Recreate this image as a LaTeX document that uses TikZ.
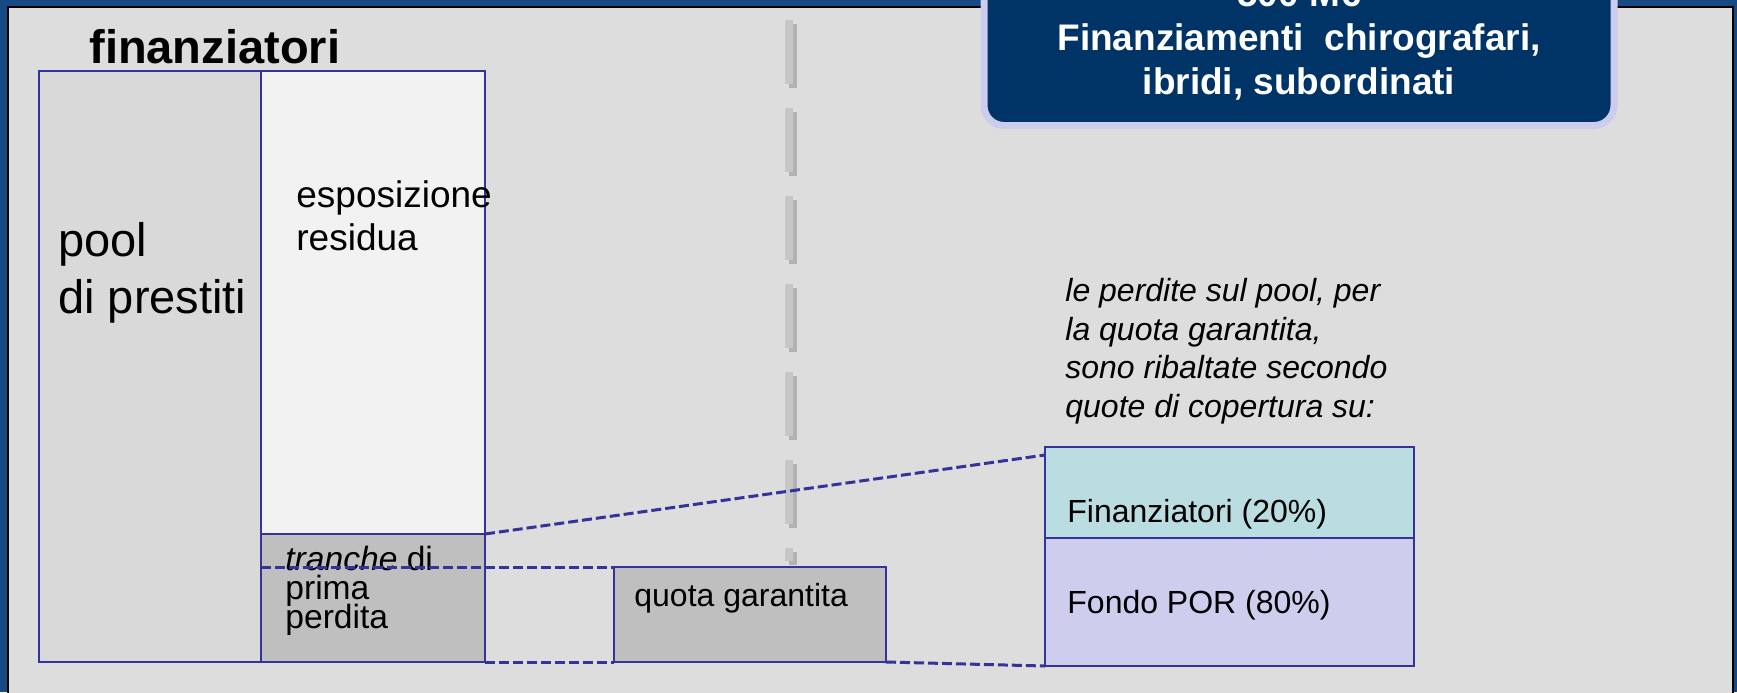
\documentclass[tikz,border=0pt]{standalone}
\usepackage{fontspec}
\setmainfont{Liberation Sans}
\usetikzlibrary{positioning}
\definecolor{bgblue}{HTML}{174A84}
\definecolor{panelgray}{HTML}{DDDDDD}
\definecolor{poolgray}{HTML}{D9D9D9}
\definecolor{expowhite}{HTML}{F2F2F2}
\definecolor{lossgray}{HTML}{BFBFBF}
\definecolor{edgeblue}{HTML}{333399}
\definecolor{finteal}{HTML}{B9DDE0}
\definecolor{porlilac}{HTML}{CDCDED}
\definecolor{titlenavy}{HTML}{003366}
\definecolor{titlerim}{HTML}{CCCCEE}
\definecolor{splitgray}{HTML}{C6C6C6}
\definecolor{splitshade}{HTML}{A8A8A8}
\newcommand{\tightlines}{\lineskiplimit=-30pt\relax}
\tikzstyle{tranche box}=[rectangle, draw=edgeblue, line width=1.2pt,
inner sep=0pt, outer sep=0pt, anchor=north west]
\tikzstyle{plain label}=[inner sep=0pt, anchor=base west, align=left]
\tikzstyle{cut line}=[draw=edgeblue, line width=1.5pt, dash pattern=on 5pt off 2pt]
\tikzstyle{split line}=[line width=4pt, dash pattern=on 32pt off 12pt]

\begin{document}
\begin{tikzpicture}[x=0.5pt, y=-0.5pt]
			\useasboundingbox (0,0) rectangle (1737,692);
			\fill[bgblue] (0,0) rectangle (1737,692);
			\draw[fill=panelgray, draw=black, line width=1pt] (8,7) rectangle (1733,710);

			\draw[split line, splitshade, opacity=0.8] (793,24) -- (793,565);
			\draw[split line, splitgray] (789,20) -- (789,561);

			\node[tranche box, fill=poolgray, minimum width=111pt, minimum height=295.5pt] (pool) at (39,71) {};
			\node[tranche box, fill=expowhite, minimum width=112pt, minimum height=231.5pt] (expo) at (261,71) {};
			\node[tranche box, fill=lossgray, minimum width=112pt, minimum height=64pt, below=0pt of expo] (first) {};
			\node[tranche box, fill=lossgray, minimum width=136pt, minimum height=47.5pt] (quota) at (614,567) {};
			\node[tranche box, fill=finteal, minimum width=184.5pt, minimum height=45.5pt] (fin) at (1045,447) {};
			\node[tranche box, fill=porlilac, minimum width=184.5pt, minimum height=64pt, below=0pt of fin] (por) {};

			\node[plain label, font=\bfseries\fontsize{23.5}{28}\selectfont] (title) at (89,63) {finanziatori};
			\node[plain label, font=\fontsize{23.5}{28.5}\selectfont] (poolText) at (58,313) {pool\\di prestiti};
			\node[plain label, font=\fontsize{18.5}{21.5}\selectfont] (expoText) at (296,250) {esposizione\\residua};
			\node[plain label, font=\fontsize{16.8}{14.5}\selectfont\tightlines] (firstText) at (285,628) {\textit{tranche} di\\prima\\perdita};
			\node[plain label, font=\fontsize{16}{19}\selectfont] (quotaText) at (634,606) {quota garantita};
			\node[plain label, font=\itshape\fontsize{16}{19.2}\selectfont] (note) at (1065,417) {le perdite sul pool, per\\la quota garantita,\\sono ribaltate secondo\\quote di copertura su:};
			\node[plain label, font=\fontsize{16}{19}\selectfont] (finText) at (1067,522) {Finanziatori (20\%)};
			\node[plain label, font=\fontsize{16}{19}\selectfont] (porText) at (1067,613) {Fondo POR (80\%)};

			\draw[cut line] (first.north east) -- ([yshift=-4pt]fin.north west);
			\draw[cut line] (quota.north west -| first.west) -- (quota.north west);
			\draw[cut line] (first.south east) -- (quota.south west);
			\draw[cut line] (quota.south east) -- (por.south west);

			\node[draw=titlerim, fill=titlenavy, line width=3.5pt, rounded corners=10pt, minimum width=315pt, minimum height=82.75pt] (banner) at (1299,42.75) {};
			\node[inner sep=0pt, anchor=base, align=center, text=white, font=\bfseries\fontsize{18.5}{22}\selectfont] (bannerText) at (1299,94) {500 M€\\Finanziamenti\ \ chirografari,\\ibridi, subordinati};
		\end{tikzpicture}
\end{document}
